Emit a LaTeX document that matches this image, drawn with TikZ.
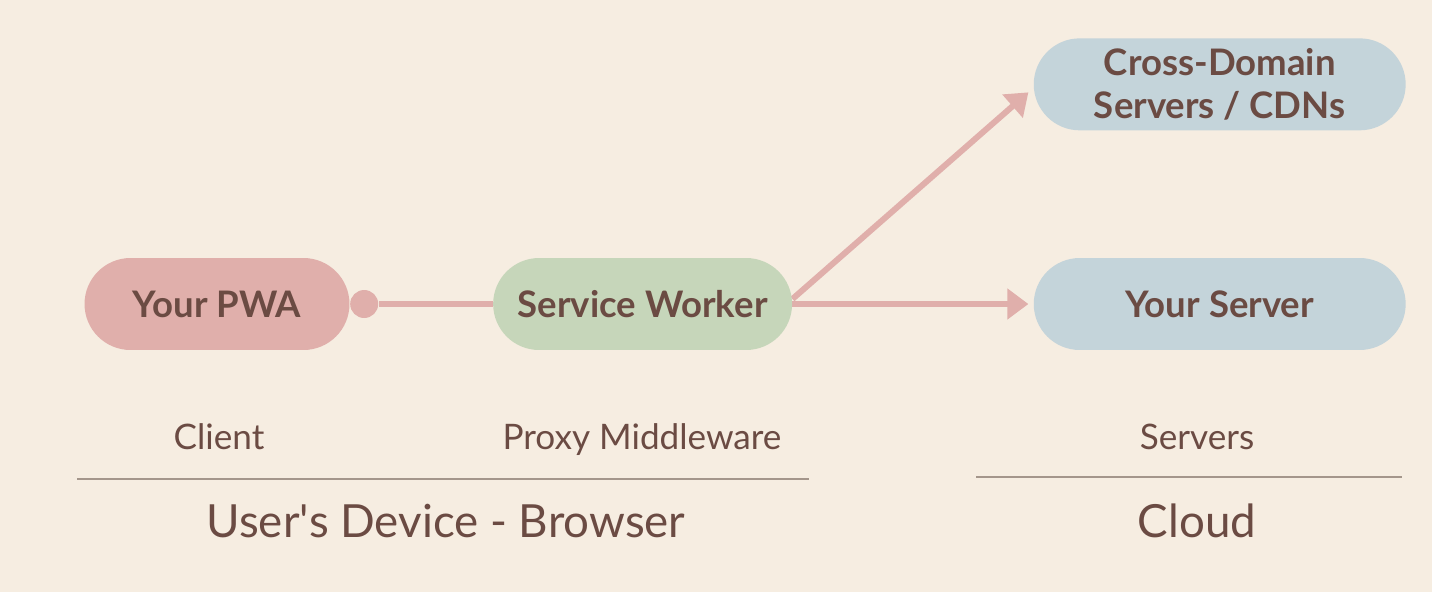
\documentclass[tikz,border=0pt]{standalone}
\usepackage{fontspec}
\setmainfont{Lato}
\usetikzlibrary{arrows.meta, positioning, shapes.misc, backgrounds}
\definecolor{pagebg}{HTML}{F6EDE1}
\definecolor{pwapink}{HTML}{E0AFAB}
\definecolor{swgreen}{HTML}{C6D6BA}
\definecolor{srvblue}{HTML}{C4D4DA}
\definecolor{inkbrown}{HTML}{6B4B43}
\definecolor{rulegray}{HTML}{A4968B}

\begin{document}
\begin{tikzpicture}[x=0.02cm, y=-0.02cm,
  pill/.style={rounded rectangle, minimum height=1.84cm, inner sep=0pt,
               font=\fontsize{20.8}{24.5}\selectfont\bfseries, text=inkbrown, align=center},
  link/.style={pwapink, line width=3.4pt},
  arrow/.style={link, -{Triangle[length=12pt, width=17pt]}, shorten >=0.1cm},
  tag/.style={font=\fontsize{20}{24}\selectfont, text=inkbrown, text height=0.75em, text depth=0.25em},
  zone/.style={font=\fontsize{26}{30}\selectfont, text=inkbrown, text height=0.75em, text depth=0.25em},
  rule/.style={rulegray, line width=1.3pt}
]
\node[pill, fill=pwapink, minimum width=5.3cm] (pwa) at (217,304) {Your PWA};
\node[circle, fill=pwapink, minimum size=0.56cm, inner sep=0pt, right=0pt of pwa] (knob) {};
\node[pill, fill=swgreen, minimum width=5.98cm, right=2.86cm of pwa] (sw) {Service Worker};
\node[pill, fill=srvblue, minimum width=7.44cm, right=4.82cm of sw] (srv) {Your Server};
\node[pill, fill=srvblue, minimum width=7.44cm, above=2.54cm of srv] (cdn) {Cross-Domain\\Servers / CDNs};
\coordinate (cdnin) at ([xshift=-0.1cm, yshift=-0.16cm]cdn.west);

\begin{scope}[on background layer]
\fill[pagebg] (0,0) rectangle (1432,592);
\draw[link] (knob) -- (sw);
\draw[arrow] (sw.east) -- (srv.west);
\draw[arrow, shorten >=0cm] ([yshift=0.1cm]sw.east) -- (cdnin);
\end{scope}

\node[tag] (client) at (219,445) {Client};
\node[tag] (proxy) at (642,445) {Proxy Middleware};
\node[tag] (servers) at (1197,445) {Servers};
\draw[rule] (77,479) -- (809,479);
\draw[rule] (976,477) -- (1402,477);
\node[zone] (device) at (446,533) {User\textquotesingle s Device - Browser};
\node[zone] (cloud) at (1197,533) {Cloud};
\end{tikzpicture}
\end{document}
